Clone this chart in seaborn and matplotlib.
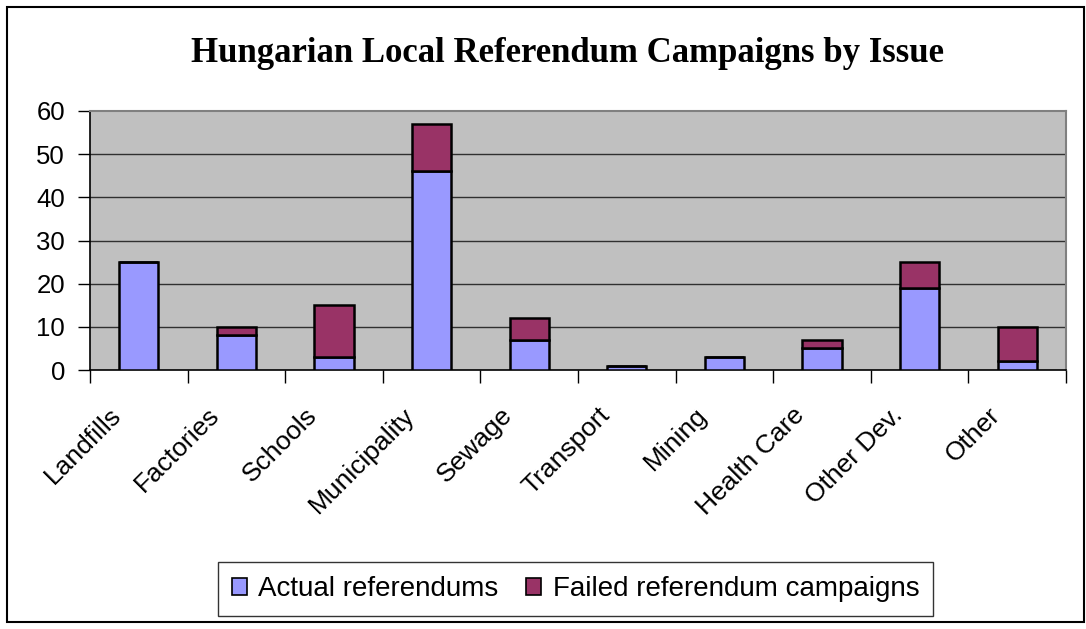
import matplotlib
matplotlib.use("Agg")
import matplotlib.pyplot as plt
import matplotlib.transforms as mtransforms
from matplotlib.patches import Rectangle, Patch
import seaborn as sns
import numpy as np

categories = ["Landfills", "Factories", "Schools", "Municipality", "Sewage",
              "Transport", "Mining", "Health Care", "Other Dev.", "Other"]
actual = [25, 8, 3, 46, 7, 1, 3, 5, 19, 2]
failed = [0, 2, 12, 11, 5, 0, 0, 2, 6, 8]
series_names = ["Actual referendums", "Failed referendum campaigns"]
y_ticks = [0, 10, 20, 30, 40, 50, 60]

BLUE = "#9999FF"
MAROON = "#993366"
PLOT_BG = "#C0C0C0"

sns.set_theme(style="white")
plt.rcParams["font.family"] = ["Liberation Sans", "DejaVu Sans"]
plt.rcParams.update({"text.color": "black", "xtick.color": "black",
                     "ytick.color": "black", "axes.labelcolor": "black"})

W, H = 1086, 629
fig = plt.figure(figsize=(W / 100, H / 100), dpi=100)
fig.patch.set_facecolor("white")
ax = fig.add_axes([90 / W, 1 - 370 / H, 976 / W, 259 / H])
ax.set_facecolor(PLOT_BG)

sns.barplot(x=categories, y=actual, color=BLUE, width=0.40, saturation=1,
            edgecolor="black", linewidth=1.8, ax=ax, zorder=3)
sns.barplot(x=categories, y=failed, bottom=actual, color=MAROON, width=0.40,
            saturation=1, edgecolor="black", linewidth=1.8, ax=ax, zorder=3)

ax.set_xlim(-0.5, len(categories) - 0.5)
ax.set_ylim(0, 60)
ax.set_yticks(y_ticks)
ax.set_yticklabels([str(t) for t in y_ticks], fontsize=18.5)
for t in y_ticks[1:-1]:
    ax.axhline(t, color="#303030", linewidth=1.0, zorder=1)

# tick marks sit on the category boundaries, labels at the centres
ax.set_xticks(np.arange(len(categories)))
ax.set_xticks(np.arange(len(categories) + 1) - 0.5, minor=True)
ax.tick_params(axis="x", which="major", length=0, pad=30)
ax.tick_params(axis="x", which="minor", length=9, width=1, color="black",
               direction="out", bottom=True)
ax.tick_params(axis="y", length=9, width=1, color="black", direction="out",
               left=True, pad=9)
ax.set_xticklabels(categories, fontsize=19, rotation=45, ha="right",
                   va="center", rotation_mode="anchor")
shift = mtransforms.ScaledTranslation(-21 / 100, 0, fig.dpi_scale_trans)
for lbl in ax.get_xticklabels():
    lbl.set_transform(lbl.get_transform() + shift)
ax.set_xlabel("")
ax.set_ylabel("")

for side in ("top", "right"):
    ax.spines[side].set_color("#808080")
    ax.spines[side].set_linewidth(1.5)
for side in ("left", "bottom"):
    ax.spines[side].set_color("black")
    ax.spines[side].set_linewidth(1.2)

fig.text(567.5 / W, 1 - 62 / H, "Hungarian Local Referendum Campaigns by Issue",
         ha="center", va="baseline", fontsize=25, fontweight="bold",
         family=["Liberation Serif", "DejaVu Serif"])

handles = [Patch(facecolor=BLUE, edgecolor="black", linewidth=1.2),
           Patch(facecolor=MAROON, edgecolor="black", linewidth=1.2)]
leg = fig.legend(handles, series_names, loc="center",
                 bbox_to_anchor=(575.5 / W, 1 - 589 / H), ncol=2,
                 fontsize=20, frameon=True, fancybox=False, handlelength=0.55,
                 handleheight=0.55, handletextpad=0.4, columnspacing=1.0,
                 borderpad=0.5, borderaxespad=0)
leg.get_frame().set_edgecolor("black")
leg.get_frame().set_linewidth(1.0)

fig.patches.append(Rectangle((7 / W, 1 - 622 / H), 1077 / W, 615 / H,
                             transform=fig.transFigure, fill=False,
                             edgecolor="black", linewidth=1.5))

fig.savefig("out.png", dpi=100)
